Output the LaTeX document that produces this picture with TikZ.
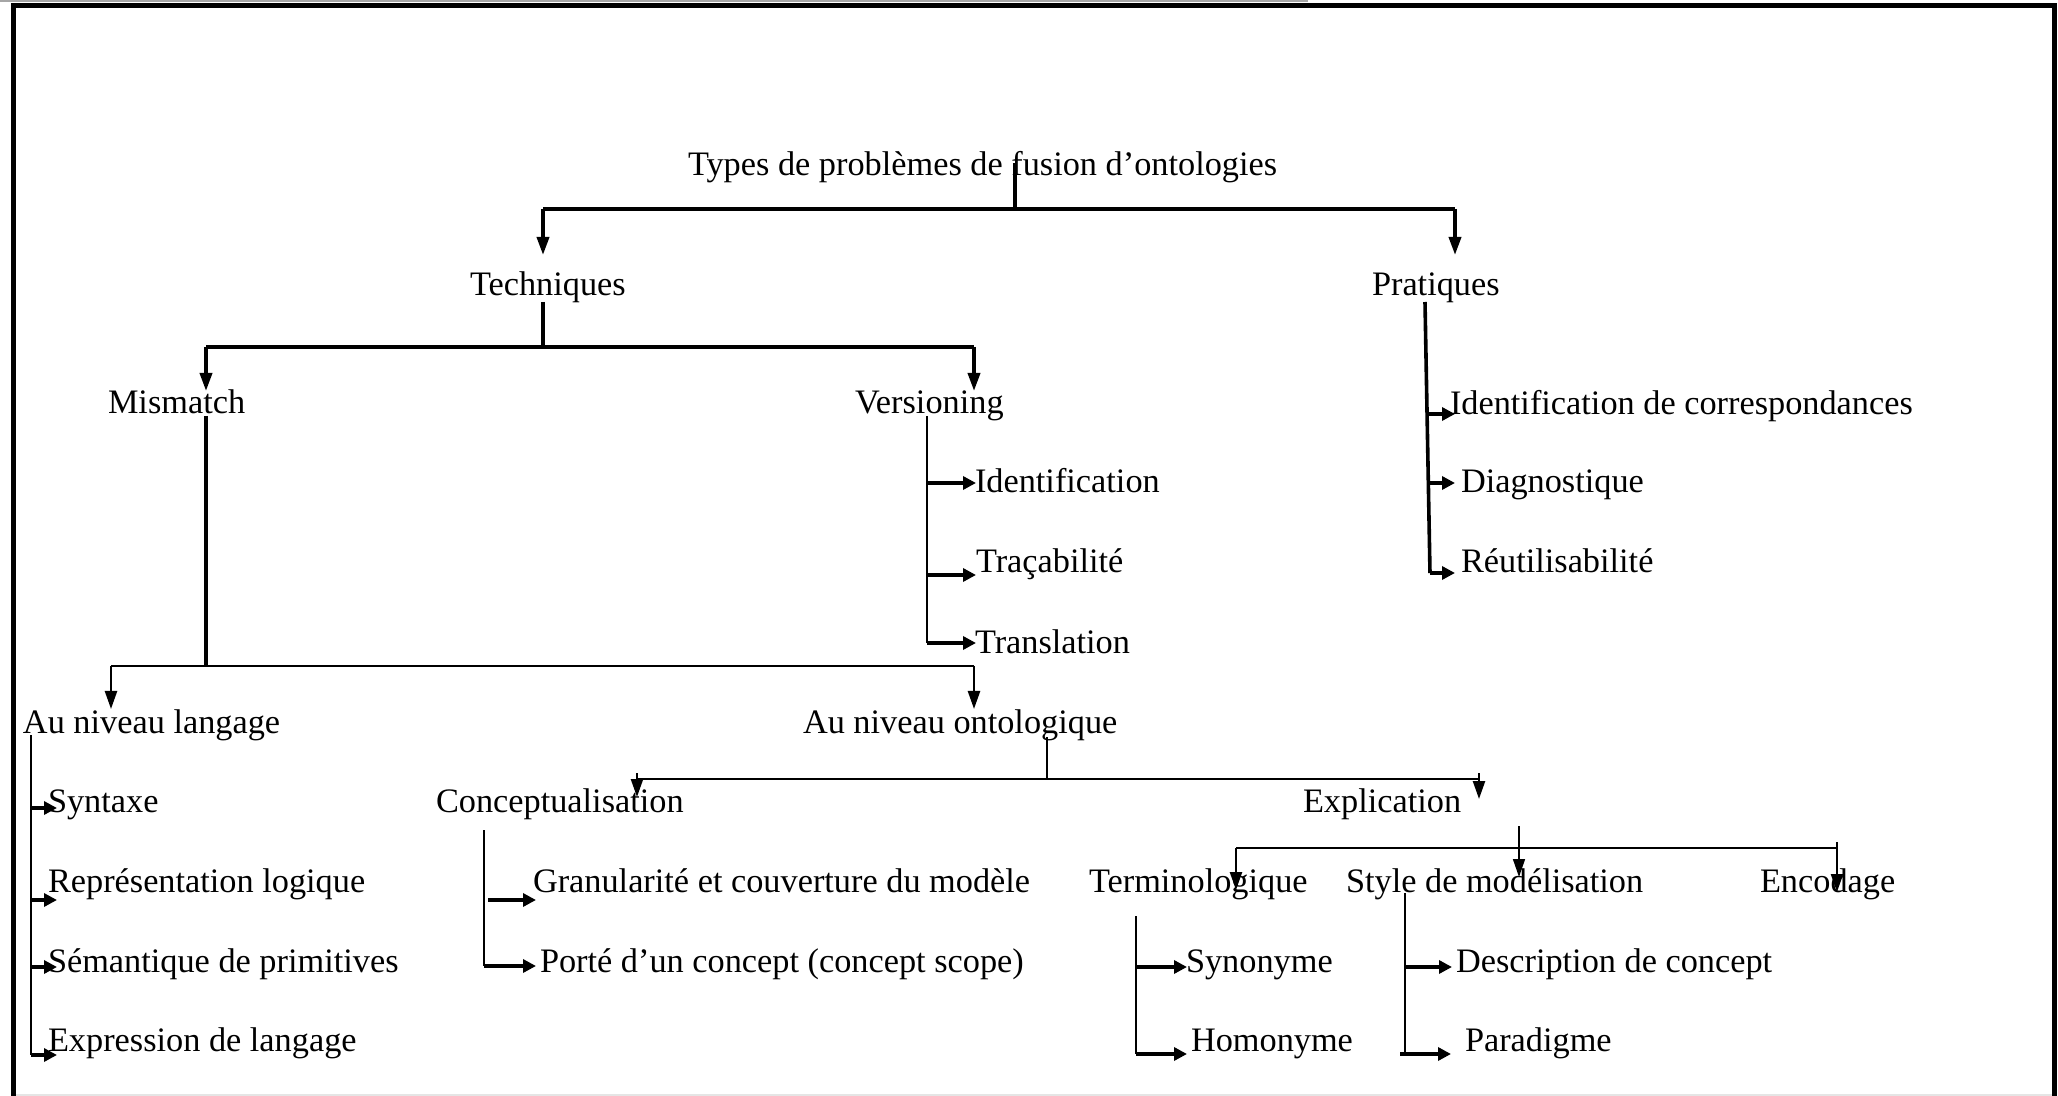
\documentclass[tikz,border=0pt]{standalone}
\usepackage{fontspec}
\setmainfont{Liberation Serif}
\usetikzlibrary{arrows.meta}
\begin{document}
\begin{tikzpicture}[x=0.5pt,y=-0.5pt,
  lbl/.style={anchor=base west,inner sep=0pt,outer sep=0pt,yshift=-1.2pt,font=\fontsize{17.15}{20}\selectfont},
  heavy/.style={line width=1.8pt},
  medium/.style={line width=1.2pt},
  light/.style={line width=0.8pt},
  down/.style={-{Triangle[length=9pt,width=6pt]}},
  side/.style={line width=1.7pt,-{Triangle[length=6.5pt,width=6.5pt]}}]
% canvas and frame
\useasboundingbox (0,0) rectangle (2058,1096);
\fill[white] (0,0) rectangle (2058,1096);
\draw[gray!70,line width=0.8pt] (0,0.8) -- (1308,0.8);
\draw[black!10,line width=0.8pt] (13,1095) -- (2054,1095);
\draw[line width=2.5pt] (13,1096) -- (13,5.5) -- (2054.5,5.5) -- (2054.5,1096);

% labels
\node[lbl] (title) at (688,173) {Types de problèmes de fusion d’ontologies};
\node[lbl] (tech)  at (470,293) {Techniques};
\node[lbl] (prat)  at (1372,293) {Pratiques};
\node[lbl] (mis)   at (108,411) {Mismatch};
\node[lbl] (ver)   at (855,411) {Versioning};
\node[lbl] (ident) at (975,490) {Identification};
\node[lbl] (trac)  at (976,570) {Traçabilité};
\node[lbl] (trans) at (975,651) {Translation};
\node[lbl] (idc)   at (1450,412) {Identification de correspondances};
\node[lbl] (diag)  at (1461,490) {Diagnostique};
\node[lbl] (reut)  at (1461,570) {Réutilisabilité};
\node[lbl] (aul)   at (23,731) {Au niveau langage};
\node[lbl] (auo)   at (803,731) {Au niveau ontologique};
\node[lbl] (syn)   at (48,810) {Syntaxe};
\node[lbl] (rep)   at (48,890) {Représentation logique};
\node[lbl] (sem)   at (48,970) {Sémantique de primitives};
\node[lbl] (expr)  at (48,1049) {Expression de langage};
\node[lbl] (conc)  at (436,810) {Conceptualisation};
\node[lbl] (expl)  at (1303,810) {Explication};
\node[lbl] (gran)  at (533,890) {Granularité et couverture du modèle};
\node[lbl] (porte) at (540,970) {Porté d’un concept (concept scope)};
\node[lbl] (term)  at (1089,890) {Terminologique};
\node[lbl] (style) at (1346,890) {Style de modélisation};
\node[lbl] (enc)   at (1760,890) {Encodage};
\node[lbl] (synon) at (1186,970) {Synonyme};
\node[lbl] (homon) at (1191,1049) {Homonyme};
\node[lbl] (desc)  at (1456,970) {Description de concept};
\node[lbl] (para)  at (1465,1049) {Paradigme};

% junction and tip points
\coordinate (tS) at (1015,163);  \coordinate (tJ) at (1015,209);
\coordinate (tL) at (543,209);   \coordinate (tR) at (1455,209);
\coordinate (techTip) at (543,255); \coordinate (pratTip) at (1455,255);
\coordinate (teS) at (543,302);  \coordinate (teJ) at (543,347);
\coordinate (teL) at (206,347);  \coordinate (teR) at (974,347);
\coordinate (misTip) at (206,391); \coordinate (verTip) at (974,391);
\coordinate (miS) at (206,416);  \coordinate (miJ) at (206,666);
\coordinate (miL) at (111,666);  \coordinate (miR) at (974,666);
\coordinate (aulTip) at (111,709); \coordinate (auoTip) at (974,709);
\coordinate (veS) at (927,416);  \coordinate (veE) at (927,643);
\coordinate (ve1) at (927,483);  \coordinate (ve2) at (927,575);
\coordinate (ve1t) at (976,483); \coordinate (ve2t) at (976,575); \coordinate (ve3t) at (976,643);
\coordinate (prS) at (1425,302); \coordinate (prE) at (1430,573);
\coordinate (pr1) at (1427.7,414); \coordinate (pr2) at (1428.3,483);
\coordinate (pr1t) at (1455,414); \coordinate (pr2t) at (1455,483); \coordinate (pr3t) at (1455,573);
\coordinate (alS) at (31,735);   \coordinate (alE) at (31,1055);
\coordinate (al1) at (31,808);   \coordinate (al2) at (31,900); \coordinate (al3) at (31,967);
\coordinate (al1t) at (57,808);  \coordinate (al2t) at (57,900); \coordinate (al3t) at (57,967); \coordinate (al4t) at (57,1055);
\coordinate (aoS) at (1047,737); \coordinate (aoJ) at (1047,779);
\coordinate (aoL) at (637,779);  \coordinate (aoR) at (1479,779);
\coordinate (aoL0) at (637,773); \coordinate (aoR0) at (1479,773);
\coordinate (concTip) at (637,797); \coordinate (explTip) at (1479,799);
\coordinate (coS) at (484,830);  \coordinate (coE) at (484,966);
\coordinate (co1) at (488,900);
\coordinate (co1t) at (536,900); \coordinate (co2t) at (536,966);
\coordinate (exS) at (1519,826); \coordinate (exJ) at (1519,848);
\coordinate (styleTip) at (1519,877);
\coordinate (exL) at (1236,848); \coordinate (exR) at (1837,848); \coordinate (exR0) at (1837,842);
\coordinate (termTip) at (1236,890); \coordinate (encTip) at (1837,892);
\coordinate (tmS) at (1136,916); \coordinate (tmE) at (1136,1054); \coordinate (tm1) at (1136,967);
\coordinate (tm1t) at (1187,967); \coordinate (tm2t) at (1187,1054);
\coordinate (stS) at (1405,893); \coordinate (stE) at (1405,1054); \coordinate (st1) at (1405,967);
\coordinate (stE0) at (1400,1054);
\coordinate (st1t) at (1452,967); \coordinate (st2t) at (1451,1054);

% first level
\draw[heavy] (tS) -- (tJ);
\draw[heavy] (tL) -- (tR);
\draw[heavy,down] (tL) -- (techTip);
\draw[heavy,down] (tR) -- (pratTip);

% Techniques
\draw[heavy] (teS) -- (teJ);
\draw[heavy] (teL) -- (teR);
\draw[heavy,down] (teL) -- (misTip);
\draw[heavy,down] (teR) -- (verTip);

% Mismatch
\draw[heavy] (miS) -- (miJ);
\draw[medium] (miL) -- (miR);
\draw[medium,down] (miL) -- (aulTip);
\draw[medium,down] (miR) -- (auoTip);

% Versioning
\draw[light] (veS) -- (veE);
\draw[side] (ve1) -- (ve1t);
\draw[side] (ve2) -- (ve2t);
\draw[side] (veE) -- (ve3t);

% Pratiques
\draw[heavy] (prS) -- (prE);
\draw[side] (pr1) -- (pr1t);
\draw[side] (pr2) -- (pr2t);
\draw[side] (prE) -- (pr3t);

% Au niveau langage
\draw[light] (alS) -- (alE);
\draw[side] (al1) -- (al1t);
\draw[side] (al2) -- (al2t);
\draw[side] (al3) -- (al3t);
\draw[side] (alE) -- (al4t);

% Au niveau ontologique
\draw[medium] (aoS) -- (aoJ);
\draw[medium] (aoL) -- (aoR);
\draw[medium,down] (aoL0) -- (concTip);
\draw[medium,down] (aoR0) -- (explTip);

% Conceptualisation
\draw[light] (coS) -- (coE);
\draw[side] (co1) -- (co1t);
\draw[side] (coE) -- (co2t);

% Explication
\draw[light,down] (exS) -- (styleTip);
\draw[medium] (exL) -- (exR);
\draw[medium,down] (exL) -- (termTip);
\draw[medium,down] (exR0) -- (encTip);

% Terminologique
\draw[light] (tmS) -- (tmE);
\draw[side] (tm1) -- (tm1t);
\draw[side] (tmE) -- (tm2t);

% Style de modelisation
\draw[light] (stS) -- (stE);
\draw[side] (st1) -- (st1t);
\draw[side] (stE0) -- (st2t);
\end{tikzpicture}
\end{document}
